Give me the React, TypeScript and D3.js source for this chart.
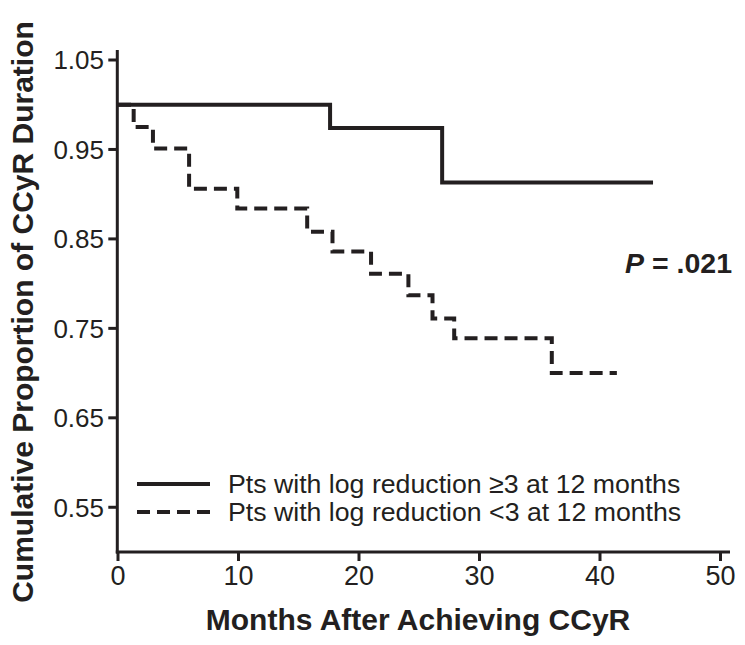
import React from "react";
import * as d3 from "d3";

const xTicks = [0, 10, 20, 30, 40, 50];
const yTicks = [0.55, 0.65, 0.75, 0.85, 0.95, 1.05];
const yTickLabels = ["0.55", "0.65", "0.75", "0.85", "0.95", "1.05"];

const highTimes = [0, 17.6, 26.9, 44.4];
const highValues = [1.0, 0.974, 0.913, 0.913];

const lowTimes = [0, 1.3, 2.9, 5.9, 9.9, 15.7, 17.8, 21.0, 24.1, 26.1, 27.9, 36.0, 41.4];
const lowValues = [1.0, 0.975, 0.951, 0.906, 0.884, 0.858, 0.836, 0.811, 0.787, 0.761, 0.739, 0.7, 0.7];

const legendLabels = [
  "Pts with log reduction \u22653 at 12 months",
  "Pts with log reduction <3 at 12 months",
];

const xTitle = "Months After Achieving CCyR";
const yTitle = "Cumulative Proportion of CCyR Duration";

const INK = "#231f20";
const FONT = "'Liberation Sans', Arial, Helvetica, sans-serif";

export default function App() {
  const x = d3.scaleLinear().domain([0, 50]).range([118, 720.5]);
  const y = d3.scaleLinear().domain([0.5, 1.05]).range([552, 60]);

  const line = d3
    .line<[number, number]>()
    .x((d) => x(d[0]))
    .y((d) => y(d[1]))
    .curve(d3.curveStepAfter);

  const highPts: [number, number][] = highTimes.map((t, i) => [t, highValues[i]]);
  const lowPts: [number, number][] = lowTimes.map((t, i) => [t, lowValues[i]]);

  const axisX0 = x(0) - 0.7;
  const axisY0 = y(0.5);

  return (
    <svg
      width={745}
      height={645}
      style={{ position: "absolute", left: 0, top: 0, background: "#fff" }}
      fontFamily={FONT}
    >
      <rect x={0} y={0} width={745} height={645} fill="#fff" />
      {/* curves */}
      <path d={line(lowPts) || ""} fill="none" stroke={INK} strokeWidth={4} strokeDasharray="13,7" />
      <path d={line(highPts) || ""} fill="none" stroke={INK} strokeWidth={4} />

      {/* y axis */}
      <line x1={axisX0} x2={axisX0} y1={50} y2={axisY0 + 1.5} stroke={INK} strokeWidth={3} />
      {yTicks.map((v, i) => (
        <g key={"y" + i}>
          <line x1={axisX0 - 9} x2={axisX0} y1={y(v)} y2={y(v)} stroke={INK} strokeWidth={3} />
          <text x={104} y={y(v)} dy="0.36em" textAnchor="end" fontSize={26} fill={INK}>
            {yTickLabels[i]}
          </text>
        </g>
      ))}

      {/* x axis */}
      <line x1={axisX0 - 1.5} x2={730} y1={axisY0} y2={axisY0} stroke={INK} strokeWidth={3} />
      {xTicks.map((v, i) => (
        <g key={"x" + i}>
          <line x1={x(v)} x2={x(v)} y1={axisY0} y2={axisY0 + 9} stroke={INK} strokeWidth={3} />
          <text x={x(v)} y={585} textAnchor="middle" fontSize={27} fill={INK}>
            {String(v)}
          </text>
        </g>
      ))}

      {/* titles */}
      <text x={418} y={630} textAnchor="middle" fontSize={30} fontWeight="bold" fill={INK}>
        {xTitle}
      </text>
      <text
        transform="translate(33,312) rotate(-90)"
        textAnchor="middle"
        fontSize={30}
        fontWeight="bold"
        fill={INK}
      >
        {yTitle}
      </text>

      {/* P value */}
      <text x={732} y={273} textAnchor="end" fontSize={28.5} fontWeight="bold" fill={INK}>
        <tspan fontStyle="italic">P</tspan>
        <tspan> = .021</tspan>
      </text>

      {/* legend */}
      <line x1={137} x2={210} y1={484} y2={484} stroke={INK} strokeWidth={4} />
      <text x={228} y={493} fontSize={26.7} fill={INK}>
        {legendLabels[0]}
      </text>
      <line x1={137} x2={210} y1={512} y2={512} stroke={INK} strokeWidth={4} strokeDasharray="13,7" />
      <text x={228} y={521} fontSize={26.7} fill={INK}>
        {legendLabels[1]}
      </text>
    </svg>
  );
}
